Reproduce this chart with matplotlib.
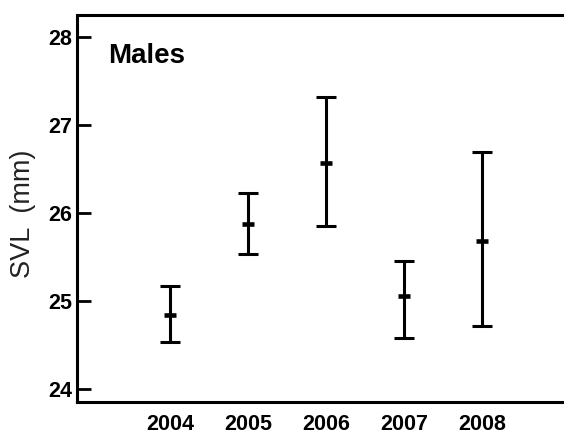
import matplotlib
matplotlib.use("Agg")
import matplotlib.pyplot as plt

plt.rcParams['font.family'] = ['Liberation Sans', 'DejaVu Sans']

# data (mean SVL with upper / lower error limits)
years = [2004, 2005, 2006, 2007, 2008]
svl_mean = [24.85, 25.88, 26.57, 25.06, 25.68]
svl_upper = [25.17, 26.23, 27.32, 25.46, 26.70]
svl_lower = [24.54, 25.54, 25.85, 24.58, 24.72]
y_ticks = [24, 25, 26, 27, 28]

err_lo = [m - lo for m, lo in zip(svl_mean, svl_lower)]
err_hi = [hi - m for m, hi in zip(svl_mean, svl_upper)]

fig = plt.figure(figsize=(5.64, 4.34), dpi=100)
ax = fig.add_axes([77 / 564, 1 - 402 / 434, 1 - 77 / 564, 387 / 434])

ax.errorbar(years, svl_mean, yerr=[err_lo, err_hi], fmt='none',
            ecolor='black', elinewidth=2.2, capsize=7.5, capthick=2.2)
ax.plot(years, svl_mean, linestyle='none', marker='_', markersize=8.6,
        markeredgewidth=3.3, color='black')

ax.set_xlim(2002.81, 2009.05)
ax.set_ylim(23.856, 28.253)
ax.set_xticks(years)
ax.set_xticklabels([str(y) for y in years])
ax.set_yticks(y_ticks)

for lbl in ax.get_xticklabels() + ax.get_yticklabels():
    lbl.set_fontweight('bold')
    lbl.set_fontsize(15.5)

ax.tick_params(axis='x', length=0, pad=8.5)
ax.tick_params(axis='y', direction='in', length=10, width=2, pad=3.5)

ax.spines['right'].set_visible(False)
for s in ['left', 'bottom', 'top']:
    ax.spines[s].set_linewidth(2.2)

ax.text(0.064, 0.893, 'Males', transform=ax.transAxes, ha='left', va='center',
        fontsize=20, fontweight='bold')

fig.text(23 / 564, 1 - 214 / 434, 'SVL  (mm)', rotation=90, ha='center',
         va='center', fontsize=19.5, color='#222222')

fig.savefig('out.png', dpi=100)
